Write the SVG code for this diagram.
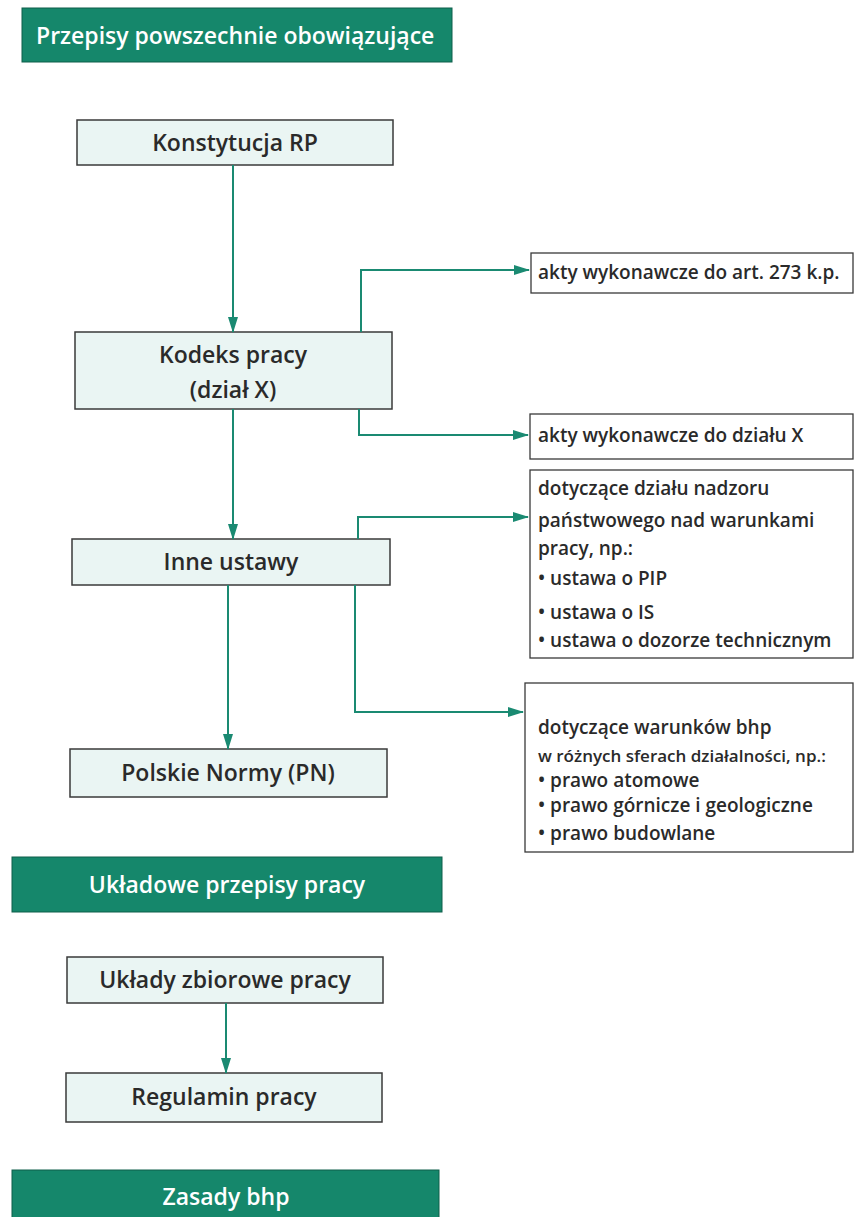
<svg xmlns="http://www.w3.org/2000/svg" width="854" height="1217" viewBox="0 0 854 1217">
<style>
.hdr{fill:#15876b;stroke:#0f5e4b;stroke-width:1}
.hdrt{font-family:"Open Sans","Noto Sans",sans-serif;font-weight:600;fill:#ffffff;font-size:23px}
.box{fill:#eaf5f3;stroke:#3a3a3a;stroke-width:1.5}
.boxt{font-family:"Open Sans","Noto Sans",sans-serif;font-weight:600;fill:#2a2a2a;font-size:23px;text-anchor:middle}
.sbox{fill:#ffffff;stroke:#3a3a3a;stroke-width:1.3}
.sbt{font-family:"Open Sans","Noto Sans",sans-serif;font-weight:600;fill:#2a2a2a;font-size:19px}
.con{fill:none;stroke:#1a8a72;stroke-width:2}
</style>
<defs>
<marker id="ah" markerUnits="userSpaceOnUse" markerWidth="16" markerHeight="10" refX="15" refY="5" orient="auto">
<path d="M0,0 L16,5 L0,10 Z" fill="#1a8a72"/>
</marker>
</defs>
<rect width="854" height="1217" fill="#ffffff"/>

<g id="hdr1">
<rect class="hdr" x="22" y="8" width="430" height="54"/>
<text class="hdrt" x="36" y="44">Przepisy powszechnie obowiązujące</text>
</g>

<g id="konstytucja">
<rect class="box" x="77" y="120" width="316" height="45"/>
<text class="boxt" x="235" y="151">Konstytucja RP</text>
</g>

<g id="kodeks">
<rect class="box" x="75" y="332" width="317" height="77"/>
<text class="boxt" x="233" y="363">Kodeks pracy</text>
<text class="boxt" x="233" y="398">(dział X)</text>
</g>

<g id="inne">
<rect class="box" x="72" y="539" width="318" height="46"/>
<text class="boxt" x="231" y="570">Inne ustawy</text>
</g>

<g id="pn">
<rect class="box" x="70" y="749" width="317" height="48"/>
<text class="boxt" x="228" y="781">Polskie Normy (PN)</text>
</g>

<g id="akty273">
<rect class="sbox" x="531" y="253" width="322" height="40"/>
<text class="sbt" x="538" y="279">akty wykonawcze do art. 273 k.p.</text>
</g>

<g id="aktyX">
<rect class="sbox" x="530" y="414" width="323" height="45"/>
<text class="sbt" x="538" y="442">akty wykonawcze do działu X</text>
</g>

<g id="nadzor">
<rect class="sbox" x="530" y="470" width="323" height="188"/>
<text class="sbt" x="538" y="495">dotyczące działu nadzoru</text>
<text class="sbt" x="538" y="527">państwowego nad warunkami</text>
<text class="sbt" x="538" y="555">pracy, np.:</text>
<text class="sbt" x="538" y="585">• ustawa o PIP</text>
<text class="sbt" x="538" y="619">• ustawa o IS</text>
<text class="sbt" x="538" y="647">• ustawa o dozorze technicznym</text>
</g>

<g id="bhp">
<rect class="sbox" x="525" y="683" width="328" height="169"/>
<text class="sbt" x="538" y="734">dotyczące warunków bhp</text>
<text class="sbt" x="538" y="762" style="font-size:17px">w różnych sferach działalności, np.:</text>
<text class="sbt" x="538" y="787">• prawo atomowe</text>
<text class="sbt" x="538" y="812">• prawo górnicze i geologiczne</text>
<text class="sbt" x="538" y="840">• prawo budowlane</text>
</g>

<g id="hdr2">
<rect class="hdr" x="12" y="857" width="430" height="55"/>
<text class="hdrt" x="227" y="893" text-anchor="middle">Układowe przepisy pracy</text>
</g>

<g id="uklady">
<rect class="box" x="67" y="957" width="316" height="46"/>
<text class="boxt" x="225" y="988">Układy zbiorowe pracy</text>
</g>

<g id="regulamin">
<rect class="box" x="66" y="1073" width="316" height="49"/>
<text class="boxt" x="224" y="1105">Regulamin pracy</text>
</g>

<g id="hdr3">
<rect class="hdr" x="12" y="1170" width="427" height="52"/>
<text class="hdrt" x="226" y="1205" text-anchor="middle">Zasady bhp</text>
</g>

<g id="connectors">
<path class="con" d="M233,165 V332" marker-end="url(#ah)"/>
<path class="con" d="M361,332 V270 H529" marker-end="url(#ah)"/>
<path class="con" d="M233,409 V539" marker-end="url(#ah)"/>
<path class="con" d="M359,409 V435 H528" marker-end="url(#ah)"/>
<path class="con" d="M358,539 V517 H528" marker-end="url(#ah)"/>
<path class="con" d="M228,585 V749" marker-end="url(#ah)"/>
<path class="con" d="M355,585 V712 H523" marker-end="url(#ah)"/>
<path class="con" d="M226,1003 V1073" marker-end="url(#ah)"/>
</g>
</svg>
